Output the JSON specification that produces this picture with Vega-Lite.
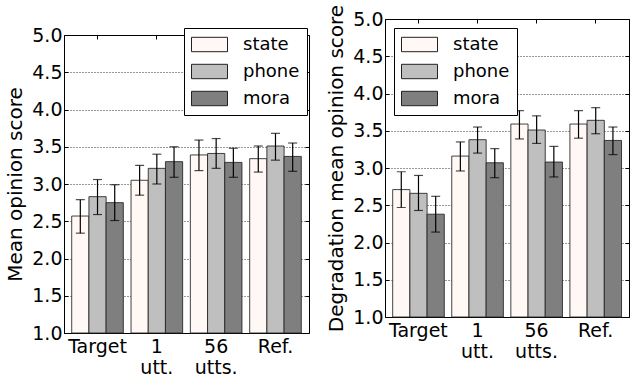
{
  "$schema": "https://vega.github.io/schema/vega-lite/v6.json",
  "padding": {"left": 5, "top": 3, "right": 0, "bottom": 0},
  "background": "white",
  "config": {
    "font": "DejaVu Sans",
    "view": {"stroke": "black", "strokeWidth": 1},
    "concat": {"spacing": 16},
    "axis": {"labelFont": "DejaVu Sans", "titleFont": "DejaVu Sans", "labelColor": "black", "titleColor": "black", "tickColor": "black"}
  },
  "datasets": {
    "mos": [
      {"group": "Target", "method": "state", "score": 2.57, "lo": 2.34, "hi": 2.79},
      {"group": "Target", "method": "phone", "score": 2.83, "lo": 2.59, "hi": 3.06},
      {"group": "Target", "method": "mora", "score": 2.75, "lo": 2.51, "hi": 2.99},
      {"group": "1 utt.", "method": "state", "score": 3.05, "lo": 2.85, "hi": 3.25},
      {"group": "1 utt.", "method": "phone", "score": 3.21, "lo": 3.0, "hi": 3.4},
      {"group": "1 utt.", "method": "mora", "score": 3.3, "lo": 3.09, "hi": 3.5},
      {"group": "56 utts.", "method": "state", "score": 3.39, "lo": 3.18, "hi": 3.59},
      {"group": "56 utts.", "method": "phone", "score": 3.41, "lo": 3.21, "hi": 3.61},
      {"group": "56 utts.", "method": "mora", "score": 3.29, "lo": 3.09, "hi": 3.48},
      {"group": "Ref.", "method": "state", "score": 3.34, "lo": 3.16, "hi": 3.51},
      {"group": "Ref.", "method": "phone", "score": 3.51, "lo": 3.32, "hi": 3.68},
      {"group": "Ref.", "method": "mora", "score": 3.37, "lo": 3.17, "hi": 3.55}
    ],
    "dmos": [
      {"group": "Target", "method": "state", "score": 2.71, "lo": 2.47, "hi": 2.95},
      {"group": "Target", "method": "phone", "score": 2.66, "lo": 2.43, "hi": 2.9},
      {"group": "Target", "method": "mora", "score": 2.38, "lo": 2.14, "hi": 2.62},
      {"group": "1 utt.", "method": "state", "score": 3.16, "lo": 2.96, "hi": 3.35},
      {"group": "1 utt.", "method": "phone", "score": 3.38, "lo": 3.2, "hi": 3.55},
      {"group": "1 utt.", "method": "mora", "score": 3.07, "lo": 2.87, "hi": 3.26},
      {"group": "56 utts.", "method": "state", "score": 3.59, "lo": 3.39, "hi": 3.77},
      {"group": "56 utts.", "method": "phone", "score": 3.51, "lo": 3.33, "hi": 3.7},
      {"group": "56 utts.", "method": "mora", "score": 3.08, "lo": 2.88, "hi": 3.29},
      {"group": "Ref.", "method": "state", "score": 3.59, "lo": 3.4, "hi": 3.77},
      {"group": "Ref.", "method": "phone", "score": 3.64, "lo": 3.46, "hi": 3.81},
      {"group": "Ref.", "method": "mora", "score": 3.37, "lo": 3.18, "hi": 3.55}
    ],
    "empty": []
  },
  "resolve": {"scale": {"fill": "independent"}, "legend": {"fill": "independent"}},
  "hconcat": [
    {
      "spacing": 0,
      "vconcat": [
        {
          "width": 245,
          "height": 6,
          "data": {"name": "empty"},
          "mark": "point",
          "view": {"stroke": null}
        },
        {
          "width": 245,
          "height": 298,
          "data": {"name": "mos"},
          "layer": [
            {
              "mark": {"type": "bar", "stroke": "#222222", "strokeWidth": 1, "strokeOpacity": 0.85},
              "encoding": {
                "x": {"field": "group", "type": "nominal", "sort": ["Target", "1 utt.", "56 utts.", "Ref."], "scale": {"paddingInner": 0.13, "paddingOuter": 0.13},
                  "axis": {"title": null, "labelAngle": 0, "labelFontSize": 19, "labelExpr": "split(datum.label, ' ')", "labelLineHeight": 21, "tickSize": -4, "labelPadding": 8, "domain": false}},
                "xOffset": {"field": "method", "type": "nominal", "sort": ["state", "phone", "mora"], "scale": {"paddingInner": 0, "paddingOuter": 0}},
                "y": {"field": "score", "type": "quantitative", "scale": {"domain": [1, 5], "nice": false, "zero": false},
                  "axis": {"title": "Mean opinion score", "titleFontSize": 20, "titleFontWeight": "normal", "labelFontSize": 19, "values": [1, 1.5, 2, 2.5, 3, 3.5, 4, 4.5, 5], "format": ".1f", "grid": true, "gridColor": "black", "gridDash": [1, 2], "gridOpacity": 0.8, "tickSize": -4, "labelPadding": 6, "domain": false, "titlePadding": 6}},
                "y2": {"datum": 1},
                "fill": {"field": "method", "type": "nominal", "scale": {"domain": ["state", "phone", "mora"], "range": ["#fff8f5", "#bfbfbf", "#7f7f7f"]},
                  "legend": {"title": null, "orient": "none", "legendX": 120, "legendY": 9, "symbolType": "M-1,-0.8H3V0.8H-1Z", "symbolSize": 324, "symbolStrokeColor": "#222222", "symbolStrokeWidth": 1, "symbolOpacity": 1, "labelFontSize": 18, "labelOffset": 33, "labelColor": "black", "rowPadding": 8, "padding": 7, "strokeColor": "black", "fillColor": "white"}}
              }
            },
            {
              "mark": {"type": "rule", "color": "black", "strokeWidth": 1.2},
              "encoding": {
                "x": {"field": "group", "type": "nominal", "sort": ["Target", "1 utt.", "56 utts.", "Ref."], "axis": {"orient": "top", "labels": false, "title": null, "tickSize": -4, "domain": false}},
                "xOffset": {"field": "method", "type": "nominal", "sort": ["state", "phone", "mora"]},
                "y": {"field": "lo", "type": "quantitative", "axis": {"orient": "right", "labels": false, "title": null, "grid": false, "values": [1, 1.5, 2, 2.5, 3, 3.5, 4, 4.5, 5], "tickSize": -4, "domain": false}},
                "y2": {"field": "hi"}
              }
            },
            {
              "mark": {"type": "tick", "color": "black", "thickness": 1.2, "size": 9},
              "encoding": {
                "x": {"field": "group", "type": "nominal", "sort": ["Target", "1 utt.", "56 utts.", "Ref."], "axis": null},
                "xOffset": {"field": "method", "type": "nominal", "sort": ["state", "phone", "mora"]},
                "y": {"field": "lo", "type": "quantitative", "axis": null}
              }
            },
            {
              "mark": {"type": "tick", "color": "black", "thickness": 1.2, "size": 9},
              "encoding": {
                "x": {"field": "group", "type": "nominal", "sort": ["Target", "1 utt.", "56 utts.", "Ref."], "axis": null},
                "xOffset": {"field": "method", "type": "nominal", "sort": ["state", "phone", "mora"]},
                "y": {"field": "hi", "type": "quantitative", "axis": null}
              }
            }
          ],
          "resolve": {"axis": {"x": "independent", "y": "independent"}}
        }
      ]
    },
    {
      "width": 244,
      "height": 298,
      "data": {"name": "dmos"},
      "layer": [
        {
          "mark": {"type": "bar", "stroke": "#222222", "strokeWidth": 1, "strokeOpacity": 0.85},
          "encoding": {
            "x": {"field": "group", "type": "nominal", "sort": ["Target", "1 utt.", "56 utts.", "Ref."], "scale": {"paddingInner": 0.13, "paddingOuter": 0.13},
              "axis": {"title": null, "labelAngle": 0, "labelFontSize": 19, "labelExpr": "split(datum.label, ' ')", "labelLineHeight": 21, "tickSize": -4, "labelPadding": 8, "domain": false}},
            "xOffset": {"field": "method", "type": "nominal", "sort": ["state", "phone", "mora"], "scale": {"paddingInner": 0, "paddingOuter": 0}},
            "y": {"field": "score", "type": "quantitative", "scale": {"domain": [1, 5], "nice": false, "zero": false},
              "axis": {"title": "Degradation mean opinion score", "titleFontSize": 20, "titleFontWeight": "normal", "labelFontSize": 19, "values": [1, 1.5, 2, 2.5, 3, 3.5, 4, 4.5, 5], "format": ".1f", "grid": true, "gridColor": "black", "gridDash": [1, 2], "gridOpacity": 0.8, "tickSize": -4, "labelPadding": 6, "domain": false, "titlePadding": 6}},
            "y2": {"datum": 1},
            "fill": {"field": "method", "type": "nominal", "scale": {"domain": ["state", "phone", "mora"], "range": ["#fff8f5", "#bfbfbf", "#7f7f7f"]},
              "legend": {"title": null, "orient": "none", "legendX": 9, "legendY": 9, "symbolType": "M-1,-0.8H3V0.8H-1Z", "symbolSize": 324, "symbolStrokeColor": "#222222", "symbolStrokeWidth": 1, "symbolOpacity": 1, "labelFontSize": 18, "labelOffset": 33, "labelColor": "black", "rowPadding": 8, "padding": 7, "strokeColor": "black", "fillColor": "white"}}
          }
        },
        {
          "mark": {"type": "rule", "color": "black", "strokeWidth": 1.2},
          "encoding": {
            "x": {"field": "group", "type": "nominal", "sort": ["Target", "1 utt.", "56 utts.", "Ref."], "axis": {"orient": "top", "labels": false, "title": null, "tickSize": -4, "domain": false}},
            "xOffset": {"field": "method", "type": "nominal", "sort": ["state", "phone", "mora"]},
            "y": {"field": "lo", "type": "quantitative", "axis": {"orient": "right", "labels": false, "title": null, "grid": false, "values": [1, 1.5, 2, 2.5, 3, 3.5, 4, 4.5, 5], "tickSize": -4, "domain": false}},
            "y2": {"field": "hi"}
          }
        },
        {
          "mark": {"type": "tick", "color": "black", "thickness": 1.2, "size": 9},
          "encoding": {
            "x": {"field": "group", "type": "nominal", "sort": ["Target", "1 utt.", "56 utts.", "Ref."], "axis": null},
            "xOffset": {"field": "method", "type": "nominal", "sort": ["state", "phone", "mora"]},
            "y": {"field": "lo", "type": "quantitative", "axis": null}
          }
        },
        {
          "mark": {"type": "tick", "color": "black", "thickness": 1.2, "size": 9},
          "encoding": {
            "x": {"field": "group", "type": "nominal", "sort": ["Target", "1 utt.", "56 utts.", "Ref."], "axis": null},
            "xOffset": {"field": "method", "type": "nominal", "sort": ["state", "phone", "mora"]},
            "y": {"field": "hi", "type": "quantitative", "axis": null}
          }
        }
      ],
      "resolve": {"axis": {"x": "independent", "y": "independent"}}
    }
  ]
}
